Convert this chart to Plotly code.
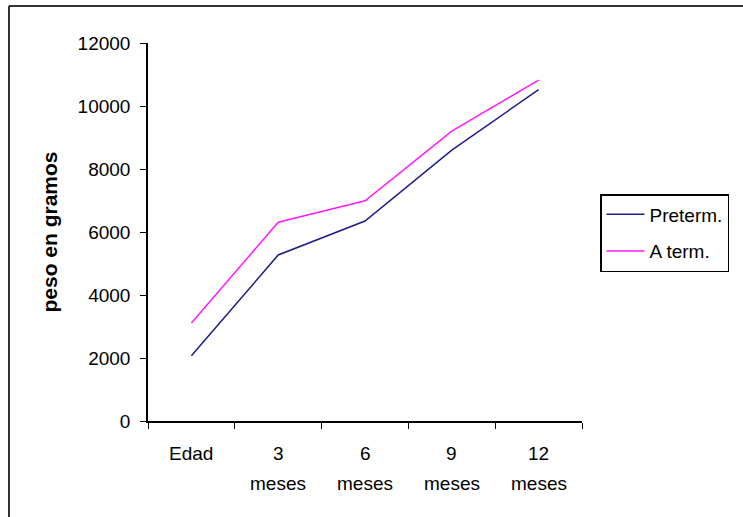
import plotly.graph_objects as go

# Category axis (age) and weight series in grams
categories = ["Edad", "3 meses", "6 meses", "9 meses", "12 meses"]
label_top = ["Edad", "3", "6", "9", "12"]
label_bottom = ["", "meses", "meses", "meses", "meses"]
preterm = [2070, 5270, 6350, 8600, 10520]
a_term = [3110, 6310, 6990, 9200, 10820]
y_ticks = [0, 2000, 4000, 6000, 8000, 10000, 12000]
y_tick_text = ["0", "2000", "4000", "6000", "8000", "10000", "12000"]

W, H = 743, 517
L, R, T, B = 148, 161, 43, 96
pw, ph = W - L - R, H - T - B

def px_x(p):
    return (p - L) / pw

def px_y(p):
    return (H - B - p) / ph

FONT = "Liberation Sans, Arial, sans-serif"
FS = 19

fig = go.Figure()
fig.add_trace(go.Scatter(x=categories, y=preterm, mode="lines", name="Preterm.",
                         line=dict(color="#1c1c8c", width=1.5), legendgroup="a"))
fig.add_trace(go.Scatter(x=categories, y=a_term, mode="lines", name="A term.",
                         line=dict(color="#ff1aff", width=1.5), legendgroup="b"))

annotations = []
for c, t1, t2 in zip(categories, label_top, label_bottom):
    annotations.append(dict(x=c, xref="x", y=px_y(454), yref="paper", yanchor="middle",
                            text=t1, showarrow=False,
                            font=dict(size=FS, color="black", family=FONT)))
    if t2:
        annotations.append(dict(x=c, xref="x", y=px_y(483), yref="paper", yanchor="middle",
                                text=t2, showarrow=False,
                                font=dict(size=FS, color="black", family=FONT)))

# frame lines along the top and left edges
shapes = [
    dict(type="line", xref="paper", yref="paper", x0=px_x(9), x1=px_x(W + 5),
         y0=px_y(6), y1=px_y(6), line=dict(color="#333333", width=2)),
    dict(type="line", xref="paper", yref="paper", x0=px_x(9), x1=px_x(9),
         y0=px_y(6), y1=px_y(H + 5), line=dict(color="#333333", width=2)),
]

fig.update_layout(
    width=W, height=H,
    margin=dict(l=L, r=R, t=T, b=B),
    paper_bgcolor="white", plot_bgcolor="white",
    font=dict(family=FONT, size=FS, color="black"),
    xaxis=dict(type="category", range=[-0.5, 4.5], showgrid=False, zeroline=False,
               showline=True, linecolor="black", linewidth=1.5,
               ticks="outside", ticklen=6, tickcolor="black", tickson="boundaries",
               showticklabels=False),
    yaxis=dict(range=[0, 12000], tickvals=y_ticks, ticktext=y_tick_text,
               showgrid=False, zeroline=False,
               showline=True, linecolor="black", linewidth=1.5,
               ticks="outside", ticklen=6, tickcolor="black",
               tickfont=dict(size=FS), ticklabelstandoff=6,
               title=dict(text="<b>peso en gramos</b>", font=dict(size=21), standoff=14)),
    legend=dict(x=px_x(600), y=px_y(194), xanchor="left", yanchor="top",
                bordercolor="black", borderwidth=1.5, bgcolor="white",
                traceorder="grouped", tracegroupgap=9, itemwidth=38,
                font=dict(size=FS, family=FONT)),
    annotations=annotations,
    shapes=shapes,
)

fig.write_html("out.html")
